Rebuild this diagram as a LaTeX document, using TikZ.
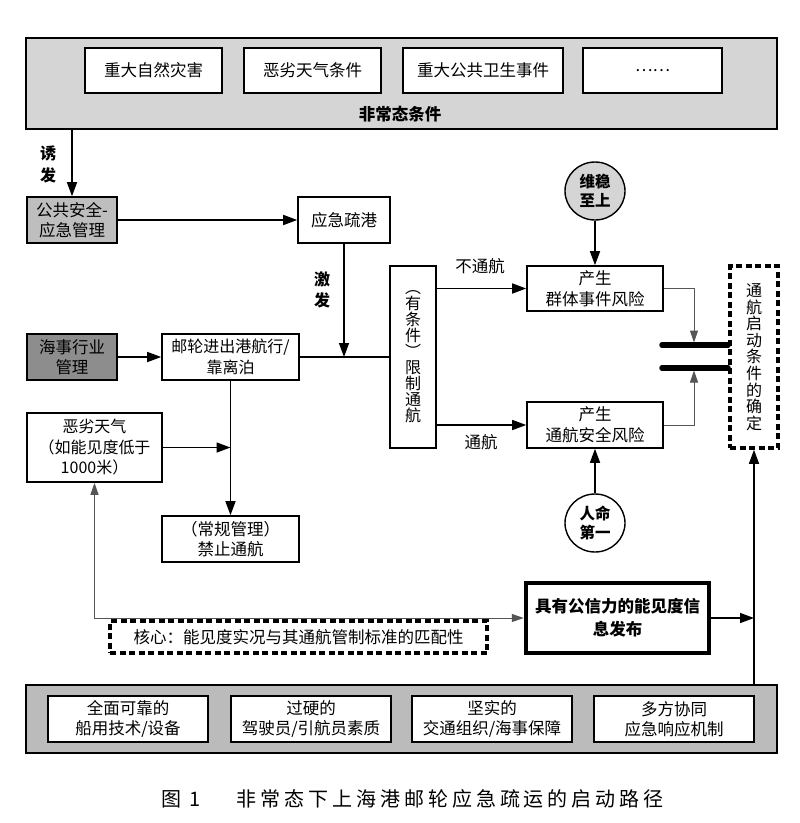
\documentclass[tikz,border=0pt]{standalone}
\usepackage{fontspec}
\setmainfont{Noto Sans CJK SC}
\newfontfamily\capfont{Noto Sans CJK SC}[LetterSpace=20]
\usetikzlibrary{arrows.meta,positioning,calc,shapes.geometric}
\definecolor{topgray}{HTML}{D5D5D5}
\definecolor{midgray}{HTML}{BEBEBE}
\definecolor{darkgray2}{HTML}{8D8D8D}
\definecolor{botgray}{HTML}{BBBBBB}
\definecolor{thinline}{HTML}{555555}
\tikzset{
  box/.style={draw, line width=1.6pt, fill=white, inner sep=0pt, align=center,
    font=\fontsize{16.5}{20.5}\selectfont},
  band/.style={draw, line width=1.8pt, inner sep=0pt},
  circ/.style={draw, ellipse, line width=1.4pt, inner sep=0pt, minimum width=60pt, minimum height=58pt, align=center,
    font=\bfseries\fontsize{15.5}{19}\selectfont},
  arr/.style={line width=1.5pt, -{Triangle[length=14pt,width=10pt]}},
  garr/.style={line width=1pt, draw=thinline, -{Triangle[length=12pt,width=8pt]}},
  plain/.style={line width=1.5pt},
  bar/.style={line width=5.5pt, line cap=round},
  dbox/.style={draw, line width=3.5pt, dash pattern=on 6pt off 3.5pt, inner sep=0pt, align=center,
    font=\fontsize{16.5}{20}\selectfont},
  lbl/.style={inner sep=0pt, align=center, font=\fontsize{16.5}{20}\selectfont},
  blbl/.style={inner sep=0pt, align=center, font=\bfseries\fontsize{16}{22}\selectfont},
}
\begin{document}
\begin{tikzpicture}[x=1pt,y=-1pt]
\useasboundingbox (0,0) rectangle (800,823);
\fill[white] (0,0) rectangle (800,823);
% top band
\node[band, fill=topgray, minimum width=751pt, minimum height=91pt] (top) at (401.5,83.5) {};
\node[box, minimum width=137pt, minimum height=45pt] (t1) at (153.5,70.5) {重大自然灾害};
\node[box, minimum width=137pt, minimum height=45pt] (t2) at (312.5,70.5) {恶劣天气条件};
\node[box, minimum width=160pt, minimum height=45pt] (t3) at (483,70.5) {重大公共卫生事件};
\node[box, minimum width=139pt, minimum height=45pt] (t4) at (652.5,70.5) {……};
\node[blbl, font=\bfseries\fontsize{16.5}{20}\selectfont] (toplbl) at (400,114) {非常态条件};
% left column
\node[box, fill=midgray, minimum width=90pt, minimum height=46pt] (gg) at (72,220) {公共安全-\\应急管理};
\node[box, minimum width=92pt, minimum height=46pt] (yj) at (344,220) {应急疏港};
\node[box, fill=darkgray2, minimum width=90pt, minimum height=46pt] (hs) at (72,357) {海事行业\\管理};
\node[box, minimum width=137pt, minimum height=46pt, font=\fontsize{16}{20.5}\selectfont] (yl) at (230.5,357) {邮轮进出港航行/\\靠离泊};
\node[box, minimum width=46pt, minimum height=182pt, font=\fontsize{16}{16}\selectfont] (xz) at (413,357) {︵\\有\\条\\件\\︶\\限\\制\\通\\航};
\node[box, minimum width=135pt, minimum height=69pt, font=\fontsize{16}{20.5}\selectfont] (ew) at (94.5,447.5) {恶劣天气\\（如能见度低于\\1000米）};
\node[box, minimum width=137pt, minimum height=46pt] (jz) at (230.5,539) {（常规管理）\\禁止通航};
% right part
\node[box, minimum width=136pt, minimum height=45pt] (qt) at (595,288.5) {产生\\群体事件风险};
\node[box, minimum width=136pt, minimum height=46pt] (ta) at (595,425) {产生\\通航安全风险};
\node[circ, fill=topgray] (ww) at (595,191) {维稳\\至上};
\node[circ, fill=white] (rm) at (595,523) {人命\\第一};
\node[dbox, minimum width=48pt, minimum height=182pt, font=\fontsize{16}{16.6}\selectfont] (dz) at (754,357) {通\\航\\启\\动\\条\\件\\的\\确\\定};
% lower part
\node[dbox, minimum width=377pt, minimum height=32pt, font=\fontsize{16.5}{20}\selectfont] (hx) at (298.5,637) {核心：能见度实况与其通航管制标准的匹配性};
\node[box, line width=4.5pt, minimum width=183pt, minimum height=70pt, font=\bfseries\fontsize{16.5}{23}\selectfont] (gx) at (617.5,618) {具有公信力的能见度信\\息发布};
% bottom band
\node[band, fill=botgray, minimum width=751pt, minimum height=68pt] (bot) at (401.5,719) {};
\node[box, minimum width=160pt, minimum height=46pt] (b1) at (128,719) {全面可靠的\\船用技术/设备};
\node[box, minimum width=160pt, minimum height=46pt] (b2) at (311,719) {过硬的\\驾驶员/引航员素质};
\node[box, minimum width=160pt, minimum height=46pt] (b3) at (492,719) {坚实的\\交通组织/海事保障};
\node[box, minimum width=160pt, minimum height=46pt] (b4) at (674,719) {多方协同\\应急响应机制};
% labels
\node[blbl] (yf) at (48,164) {诱\\发};
\node[blbl, font=\bfseries\fontsize{16}{21}\selectfont] (jf) at (322,290) {激\\发};
\node[lbl] (btl) at (480,266) {不通航};
\node[lbl] (thl) at (481,442) {通航};
% caption
\node[inner sep=0pt, font=\fontsize{20}{24}\selectfont] (capa) at (181,799) {图\hspace{8pt}1};
\node[inner sep=0pt, font=\capfont\fontsize{20}{24}\selectfont] (capb) at (450,799) {非常态下上海港邮轮应急疏运的启动路径};
% coordinates
\coordinate (j1) at (yj.south |- yl.east);
\coordinate (bar1L) at (662,345);
\coordinate (bar1R) at (728,345);
\coordinate (bar2L) at (662,368);
\coordinate (bar2R) at (728,368);
\coordinate (bar1t) at (694,342.5);
\coordinate (bar2t) at (694,370.5);
% connectors
\draw[arr] (top.south -| gg.north) -- (gg.north);
\draw[arr] (gg.east) -- (yj.west);
\draw[arr] (yj.south) -- (j1);
\draw[arr] (hs.east) -- (yl.west);
\draw[plain] (yl.east) -- (xz.west);
\draw[arr] (yl.south) -- (jz.north);
\draw[arr] (ew.east) -- (ew.east -| yl.south);
\draw[arr] (xz.east |- qt.west) -- (qt.west);
\draw[arr] (xz.east |- ta.west) -- (ta.west);
\draw[arr] (ww.south) -- (qt.north);
\draw[arr] (rm.north) -- (ta.south);
\draw[garr] (qt.east) -| (bar1t);
\draw[garr] (ta.east) -| (bar2t);
\draw[bar] (bar1L) -- (bar1R);
\draw[bar] (bar2L) -- (bar2R);
\draw[arr] (bot.north -| dz.south) -- (dz.south);
\draw[arr] (gx.east) -- (gx.east -| dz.south);
\draw[garr, {Triangle[length=12pt,width=8pt]}-{Triangle[length=12pt,width=8pt]}] (ew.south) |- (gx.west);
\end{tikzpicture}
\end{document}
